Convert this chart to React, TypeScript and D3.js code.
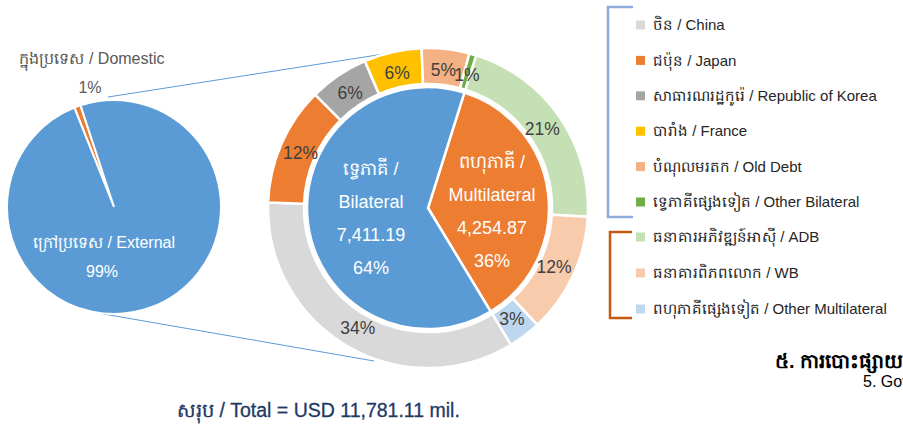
import React from "react";
import * as d3 from "d3";

const W = 903;
const H = 428;

// Left pie: domestic vs external
const sourceNames = ["ក្នុងប្រទេស / Domestic", "ក្រៅប្រទេស / External"];
const sourceValues = [115.05, 11666.06];
const sourceColors = ["#ED7D31", "#5B9BD5"];

// Inner pie: multilateral vs bilateral
const groupKh = ["ពហុភាគី /", "ទ្វេភាគី /"];
const groupEn = ["Multilateral", "Bilateral"];
const groupValues = [4254.87, 7411.19];
const groupColors = ["#ED7D31", "#5B9BD5"];

// Outer ring: creditors (clockwise, starting with multilateral ones)
const creditorNames = [
  "ធនាគារអភិវឌ្ឍន៍អាស៊ី / ADB",
  "ធនាគារពិភពលោក / WB",
  "ពហុភាគីផ្សេងទៀត / Other Multilateral",
  "ចិន / China",
  "ជប៉ុន / Japan",
  "សាធារណរដ្ឋកូរ៉េ / Republic of Korea",
  "បារាំង / France",
  "បំណុលមរតក / Old Debt",
  "ទ្វេភាគីផ្សេងទៀត / Other Bilateral",
];
const creditorValues = [2450, 1420, 384.87, 3990, 1400, 700, 680, 560, 81.19];
const creditorColors = [
  "#C5E0B4",
  "#F8CBAD",
  "#BDD7EE",
  "#D9D9D9",
  "#ED7D31",
  "#A5A5A5",
  "#FFC000",
  "#F4B183",
  "#70AD47",
];

const bilateralLegend = [3, 4, 5, 6, 7, 8];
const multilateralLegend = [0, 1, 2];

const totalLabel = "សរុប / Total = USD 11,781.11 mil.";
const sectionKh = "៥. ការបោះផ្សាយមូលបត្ររដ្ឋ";
const sectionEn = "5. Government Securities";

const FONT = "'Liberation Sans', Arial, sans-serif";
const deg = Math.PI / 180;

export default function App() {
  const pct = d3.format(".0%");
  const fmt = d3.format(",.2f");

  // left pie
  const lcx = 114, lcy = 207, lr = 107;
  const srcTotal = d3.sum(sourceValues);
  const domSpan = (sourceValues[0] / srcTotal) * 2 * Math.PI;
  const leftPie = d3
    .pie<number>()
    .sort(null)
    .startAngle(-20 * deg - domSpan / 2)
    .endAngle(-20 * deg - domSpan / 2 + 2 * Math.PI)(sourceValues);
  const leftArc = d3.arc<d3.PieArcDatum<number>>().innerRadius(0).outerRadius(lr);

  // doughnut
  const cx = 428, cy = 208;
  const start = 17.5 * deg;
  const innerPie = d3.pie<number>().sort(null).startAngle(start).endAngle(start + 2 * Math.PI)(groupValues);
  const innerArc = d3.arc<d3.PieArcDatum<number>>().innerRadius(0).outerRadius(121);
  const ringPie = d3.pie<number>().sort(null).startAngle(start).endAngle(start + 2 * Math.PI)(creditorValues);
  const ringArc = d3.arc<d3.PieArcDatum<number>>().innerRadius(124).outerRadius(160);
  const ringTotal = d3.sum(creditorValues);
  const groupTotal = d3.sum(groupValues);

  const labelPos = (a: d3.PieArcDatum<number>, r: number) => {
    const m = (a.startAngle + a.endAngle) / 2;
    return [cx + r * Math.sin(m), cy - r * Math.cos(m)];
  };

  const groupLabelXY = [
    [492, 162],
    [371, 169],
  ];

  const legendItem = (i: number, y: number) => (
    <g key={i}>
      <rect x={636} y={y - 4.5} width={9} height={9} fill={creditorColors[i]} />
      <text x={653} y={y} dy="0.35em" fontSize={15} fill="#262626" fontFamily={FONT}>
        {creditorNames[i]}
      </text>
    </g>
  );

  return (
    <svg
      width={W}
      height={H}
      viewBox={`0 0 ${W} ${H}`}
      style={{ position: "absolute", left: 0, top: 0, background: "#fff" }}
    >
      {/* connector lines */}
      <line x1={108} y1={97} x2={403} y2={51} stroke="#5B9BD5" strokeWidth={1} />
      <line x1={98} y1={313} x2={374} y2={361} stroke="#5B9BD5" strokeWidth={1} />

      {/* left pie */}
      <g transform={`translate(${lcx},${lcy})`}>
        {leftPie.map((a, i) => (
          <path key={i} d={leftArc(a) || ""} fill={sourceColors[i]} stroke="#fff" strokeWidth={2} />
        ))}
      </g>
      <text x={92} y={58} dy="0.35em" textAnchor="middle" fontSize={16} fill="#595959" fontFamily={FONT}>
        {sourceNames[0]}
      </text>
      <text x={90} y={87} dy="0.35em" textAnchor="middle" fontSize={16} fill="#595959" fontFamily={FONT}>
        {pct(sourceValues[0] / srcTotal)}
      </text>
      <text x={104} y={242} dy="0.35em" textAnchor="middle" fontSize={16} fill="#fff" fontFamily={FONT}>
        {sourceNames[1]}
      </text>
      <text x={102} y={271} dy="0.35em" textAnchor="middle" fontSize={16} fill="#fff" fontFamily={FONT}>
        {pct(sourceValues[1] / srcTotal)}
      </text>

      {/* doughnut */}
      <g transform={`translate(${cx},${cy})`}>
        {ringPie.map((a, i) => (
          <path key={i} d={ringArc(a) || ""} fill={creditorColors[i]} stroke="#fff" strokeWidth={2.5} />
        ))}
        {innerPie.map((a, i) => (
          <path key={i} d={innerArc(a) || ""} fill={groupColors[i]} stroke="#fff" strokeWidth={2.5} />
        ))}
      </g>
      {ringPie.map((a, i) => {
        const [x, y] = labelPos(a, 139);
        return (
          <text key={i} x={x} y={y} dy="0.35em" textAnchor="middle" fontSize={17.5} fill="#404040" fontFamily={FONT}>
            {pct(a.value / ringTotal)}
          </text>
        );
      })}
      {innerPie.map((a, i) => {
        const [x, y] = groupLabelXY[i];
        const lines = [groupKh[i], groupEn[i], fmt(a.value), pct(a.value / groupTotal)];
        return (
          <g key={i}>
            {lines.map((t, j) => (
              <text key={j} x={x} y={y + j * 33} dy="0.35em" textAnchor="middle" fontSize={18} fill="#fff" fontFamily={FONT}>
                {t}
              </text>
            ))}
          </g>
        );
      })}

      {/* legend brackets */}
      <path d="M633,7 L608,7 L608,217 L633,217" fill="none" stroke="#8FAADC" strokeWidth={2.5} />
      <path d="M632,232 L610,232 L610,318 L632,318" fill="none" stroke="#C55A11" strokeWidth={2.5} />
      {bilateralLegend.map((i, k) => legendItem(i, 25 + k * 35.4))}
      {multilateralLegend.map((i, k) => legendItem(i, 237 + k * 36))}

      {/* bottom texts */}
      <text x={177} y={410} dy="0.35em" fontSize={19.5} fill="#1F3864" stroke="#1F3864" strokeWidth={0.3} fontFamily={FONT}>
        {totalLabel}
      </text>
      <text x={775} y={361} dy="0.35em" fontSize={20} fontWeight="bold" fill="#000" fontFamily={FONT}>
        {sectionKh}
      </text>
      <text x={863} y={381} dy="0.35em" fontSize={16} fill="#000" fontFamily={FONT}>
        {sectionEn}
      </text>
    </svg>
  );
}
